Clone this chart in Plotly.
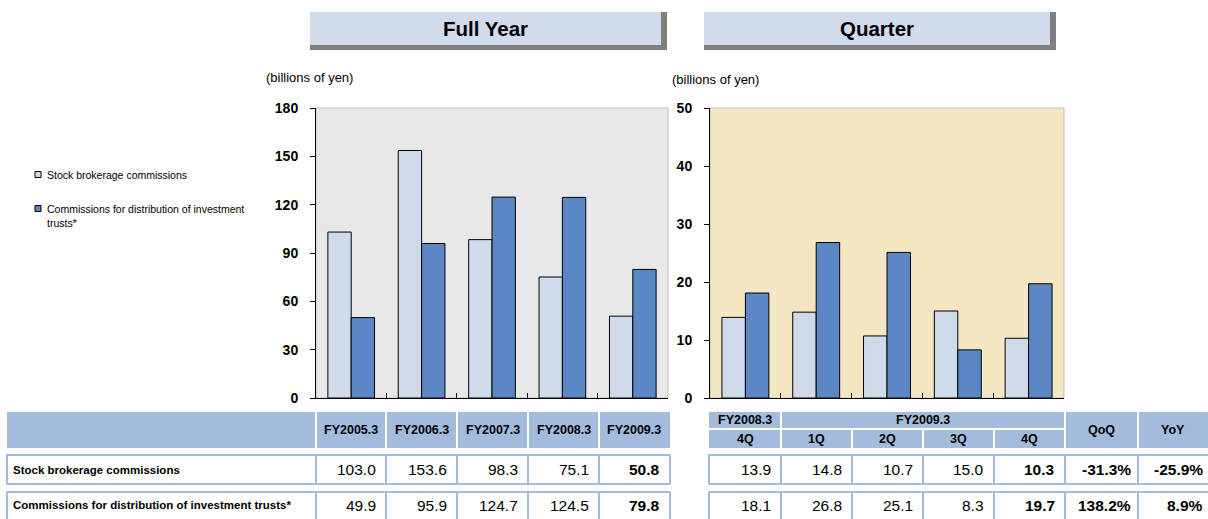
import plotly.graph_objects as go

# ---- data (billions of yen) ----
fy_labels = ["FY2005.3", "FY2006.3", "FY2007.3", "FY2008.3", "FY2009.3"]
fy_stock = [103.0, 153.6, 98.3, 75.1, 50.8]
fy_trusts = [49.9, 95.9, 124.7, 124.5, 79.8]

q_labels = ["FY2008.3 4Q", "FY2009.3 1Q", "FY2009.3 2Q", "FY2009.3 3Q", "FY2009.3 4Q"]
q_year_groups = ["FY2008.3", "FY2009.3"]
q_short = ["4Q", "1Q", "2Q", "3Q", "4Q"]
q_stock = [13.9, 14.8, 10.7, 15.0, 10.3]
q_trusts = [18.1, 26.8, 25.1, 8.3, 19.7]

qoq_text = ["-31.3%", "138.2%"]
yoy_text = ["-25.9%", "8.9%"]

series_names = ["Stock brokerage commissions", "Commissions for distribution of investment trusts*"]
fy_ticks = [0, 30, 60, 90, 120, 150, 180]
q_ticks = [0, 10, 20, 30, 40, 50]

W, H = 1208, 519
FONT = "Arial, Liberation Sans, sans-serif"
LIGHT = "#cfdbeb"
DARK = "#5b88c5"
HEAD = "#a4bcdc"


def px(x):
    return x / W


def py(y):
    return 1 - y / H


fig = go.Figure()

for xa, ya, cats, s1, s2 in [("x", "y", fy_labels, fy_stock, fy_trusts),
                             ("x2", "y2", q_labels, q_stock, q_trusts)]:
    fig.add_trace(go.Bar(x=cats, y=s1, name=series_names[0], xaxis=xa, yaxis=ya,
                         marker=dict(color=LIGHT, line=dict(color="black", width=1)),
                         showlegend=False))
    fig.add_trace(go.Bar(x=cats, y=s2, name=series_names[1], xaxis=xa, yaxis=ya,
                         marker=dict(color=DARK, line=dict(color="black", width=1)),
                         showlegend=False))

shapes = []
ann = []

# plot backgrounds
for xr, yr, bg in [("x domain", "y domain", "#e8e8e8"), ("x2 domain", "y2 domain", "#f5e6c4")]:
    shapes.append(dict(type="rect", xref=xr, yref=yr, x0=0, x1=1, y0=0, y1=1,
                       fillcolor=bg, line=dict(color="#c0c0c0", width=1), layer="below"))

xaxis_common = dict(type="category", showticklabels=False, tickson="boundaries",
                    ticks="inside", ticklen=5, tickcolor="black", showline=True,
                    linecolor="black", linewidth=1, showgrid=False, zeroline=False)
yaxis_common = dict(ticks="outside", ticklen=5, tickcolor="black", showline=True,
                    linecolor="black", linewidth=1, showgrid=False, zeroline=False,
                    automargin=False, ticklabelstandoff=9,
                    tickfont=dict(family=FONT, size=14, color="black", weight="bold"))

y_dom = [py(398), py(108)]
fig.update_layout(
    xaxis=dict(domain=[px(316), px(668)], anchor="y", automargin=False, **xaxis_common),
    yaxis=dict(domain=y_dom, anchor="x", range=[0, 180], tickvals=fy_ticks, **yaxis_common),
    xaxis2=dict(domain=[px(710), px(1064)], anchor="y2", automargin=False, **xaxis_common),
    yaxis2=dict(domain=y_dom, anchor="x2", range=[0, 50], tickvals=q_ticks, **yaxis_common),
)

# title boxes with shadow
for x0, x1, title in [(310, 661, "Full Year"), (704, 1050, "Quarter")]:
    shapes.append(dict(type="rect", xref="paper", yref="paper", x0=px(x0), x1=px(x1 + 6),
                       y0=py(50), y1=py(12), fillcolor="#808080", line=dict(width=0)))
    shapes.append(dict(type="rect", xref="paper", yref="paper", x0=px(x0), x1=px(x1),
                       y0=py(45), y1=py(12), fillcolor="#d0dcec", line=dict(width=0)))
    ann.append(dict(x=px((x0 + x1) / 2), y=py(29), xref="paper", yref="paper", text=title,
                    showarrow=False, xanchor="center", yanchor="middle",
                    font=dict(family=FONT, size=20.5, color="black", weight="bold")))

# unit labels
for x, y in [(264, 77), (670, 80)]:
    ann.append(dict(x=px(x), y=py(y), xref="paper", yref="paper", text="(billions of yen)",
                    showarrow=False, xanchor="left", yanchor="middle",
                    font=dict(family=FONT, size=13, color="black")))

# legend
for (y, color, text) in [(174.5, LIGHT, series_names[0]),
                         (208.5, DARK, "Commissions for distribution of investment<br>trusts*")]:
    shapes.append(dict(type="rect", xref="paper", yref="paper", x0=px(35), x1=px(41),
                       y0=py(y + 3), y1=py(y - 3), fillcolor=color,
                       line=dict(color="black", width=1)))
    ann.append(dict(x=px(45), y=py(y - 7.5), xref="paper", yref="paper", text=text,
                    showarrow=False, xanchor="left", yanchor="top", align="left",
                    font=dict(family=FONT, size=10.5, color="black")))


def cell_text(xc, yc, text, bold=False, size=15.5, anchor="center"):
    ann.append(dict(x=px(xc), y=py(yc), xref="paper", yref="paper", text=text,
                    showarrow=False, xanchor=anchor, yanchor="middle",
                    font=dict(family=FONT, size=size, color="black",
                              weight="bold" if bold else "normal")))


def hline(x0, x1, y, color, w):
    shapes.append(dict(type="line", xref="paper", yref="paper", x0=px(x0), x1=px(x1),
                       y0=py(y), y1=py(y), line=dict(color=color, width=w)))


def vline(x, y0, y1, color, w):
    shapes.append(dict(type="line", xref="paper", yref="paper", x0=px(x), x1=px(x),
                       y0=py(y0), y1=py(y1), line=dict(color=color, width=w)))


row_y = [(455, 484), (492, 522)]
HDR = 12.5

# ---- full-year table ----
L_cols = [7, 316, 386, 457, 528, 599, 670]
shapes.append(dict(type="rect", xref="paper", yref="paper", x0=px(7), x1=px(670),
                   y0=py(448), y1=py(412), fillcolor=HEAD, line=dict(width=0)))
for x in L_cols[1:-1]:
    vline(x, 412, 448, "white", 2)
for i, lab in enumerate(fy_labels):
    cell_text((L_cols[i + 1] + L_cols[i + 2]) / 2, 430, lab, bold=True, size=HDR)

for r, (y0, y1) in enumerate(row_y):
    shapes.append(dict(type="rect", xref="paper", yref="paper", x0=px(7), x1=px(670),
                       y0=py(y1), y1=py(y0), fillcolor="white", line=dict(color=HEAD, width=2)))
    for x in L_cols[1:-1]:
        vline(x, y0, y1, HEAD, 2)
    ym = (y0 + y1) / 2 if r == 0 else 505
    cell_text(11, ym, series_names[r], bold=True, size=11.5, anchor="left")
    vals = fy_stock if r == 0 else fy_trusts
    for i, v in enumerate(vals):
        cell_text(L_cols[i + 2] - 8, ym, f"{v:.1f}", bold=(i == len(vals) - 1), anchor="right")

# ---- quarterly table ----
R_cols = [709, 781, 852, 923, 994, 1065, 1138, 1212]
shapes.append(dict(type="rect", xref="paper", yref="paper", x0=px(709), x1=px(1212),
                   y0=py(448), y1=py(412), fillcolor=HEAD, line=dict(width=0)))
hline(709, 1065, 429, "white", 2)
for x in [781, 1065, 1138]:
    vline(x, 412, 448, "white", 2)
for x in [852, 923, 994]:
    vline(x, 429, 448, "white", 2)
cell_text(745, 420, q_year_groups[0], bold=True, size=HDR)
cell_text(923, 420, q_year_groups[1], bold=True, size=HDR)
for i, lab in enumerate(q_short):
    cell_text((R_cols[i] + R_cols[i + 1]) / 2, 438.5, lab, bold=True, size=HDR)
cell_text(1101.5, 430, "QoQ", bold=True, size=HDR)
cell_text(1173, 430, "YoY", bold=True, size=HDR)

for r, (y0, y1) in enumerate(row_y):
    shapes.append(dict(type="rect", xref="paper", yref="paper", x0=px(709), x1=px(1212),
                       y0=py(y1), y1=py(y0), fillcolor="white", line=dict(color=HEAD, width=2)))
    for x in R_cols[1:-1]:
        vline(x, y0, y1, HEAD, 2)
    ym = (y0 + y1) / 2 if r == 0 else 505
    vals = q_stock if r == 0 else q_trusts
    for i, v in enumerate(vals):
        cell_text(R_cols[i + 1] - 8, ym, f"{v:.1f}", bold=(i == len(vals) - 1), anchor="right")
    cell_text(R_cols[6] - 5, ym, qoq_text[r], bold=True, anchor="right")
    cell_text(1205, ym, yoy_text[r], bold=True, anchor="right")

fig.update_layout(
    width=W, height=H, margin=dict(l=0, r=0, t=0, b=0, pad=0, autoexpand=False),
    paper_bgcolor="white", plot_bgcolor="rgba(0,0,0,0)",
    barmode="group", bargap=0.337, bargroupgap=0,
    shapes=shapes, annotations=ann, showlegend=False,
    font=dict(family=FONT, color="black"),
)

fig.write_html("out.html", config={"displayModeBar": False})
